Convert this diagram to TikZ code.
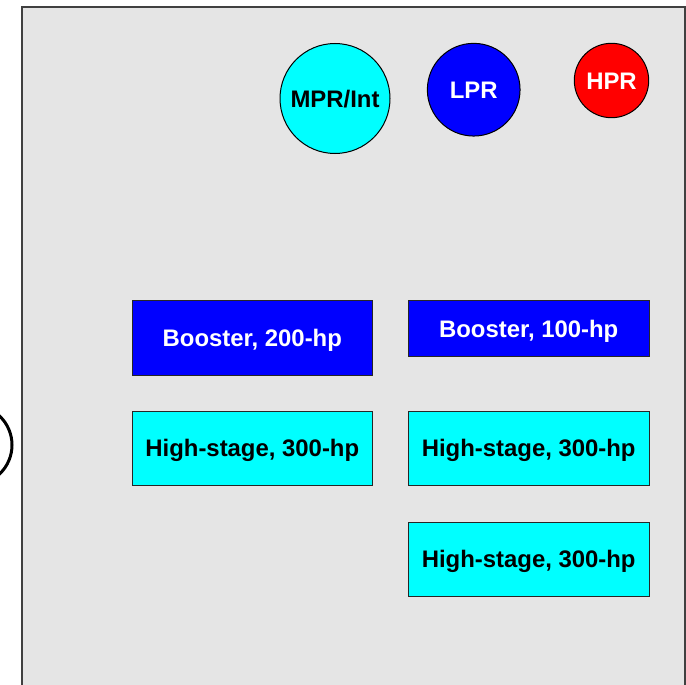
\documentclass[tikz,border=0pt]{standalone}
\usepackage{fontspec}
\setmainfont{Liberation Sans}
\definecolor{panelgray}{HTML}{E5E5E5}
\definecolor{panelborder}{HTML}{404040}
\definecolor{cyanfill}{HTML}{00FFFF}
\definecolor{bluefill}{HTML}{0000FF}
\definecolor{redfill}{HTML}{FF0000}
\begin{document}
\begin{tikzpicture}[x=1pt,y=-1pt,
  lbl/.style={font=\fontsize{23.9}{28}\selectfont\bfseries, inner sep=0pt, text height=17.1pt, text depth=0pt},
  unitbox/.style={lbl, rectangle, draw=black!85, line width=1pt},
  bluebox/.style={unitbox, fill=bluefill, text=white},
  cyanbox/.style={unitbox, fill=cyanfill, text=black},
  recv/.style={lbl, circle, draw=black, line width=1pt}
]
\useasboundingbox (0,0) rectangle (686,685);
\clip (0,0) rectangle (686,685);
\fill[white] (0,0) rectangle (686,685);
% panel
\draw[fill=panelgray, draw=panelborder, line width=1.5pt] (22,6.8) rectangle (684.8,700);
% partial circle at left edge
\node[circle, draw=black, line width=3pt, minimum size=80pt, inner sep=0pt] (partial) at (-28,445) {};
% receivers
\node[recv, fill=cyanfill, text=black, minimum size=110pt] (mpr) at (335,98.5) {MPR/Int};
\node[recv, fill=bluefill, text=white, minimum size=92.7pt] (lpr) at (473.7,89.7) {LPR};
\node[recv, fill=redfill, text=white, minimum size=74.4pt] (hpr) at (611.5,80.5) {HPR};
% compressors
\node[bluebox, minimum width=240pt, minimum height=74.3pt] (b200) at (252.3,337.9) {Booster, 200-hp};
\node[bluebox, minimum width=240.7pt, minimum height=55.6pt] (b100) at (528.7,328.5) {Booster, 100-hp};
\node[cyanbox, minimum width=240pt, minimum height=73.7pt] (hsl) at (252.3,448.2) {High-stage, 300-hp};
\node[cyanbox, minimum width=240.7pt, minimum height=73.7pt] (hsr) at (528.7,448.2) {High-stage, 300-hp};
\node[cyanbox, minimum width=240.7pt, minimum height=74pt] (hsb) at (528.7,559) {High-stage, 300-hp};
\end{tikzpicture}
\end{document}
